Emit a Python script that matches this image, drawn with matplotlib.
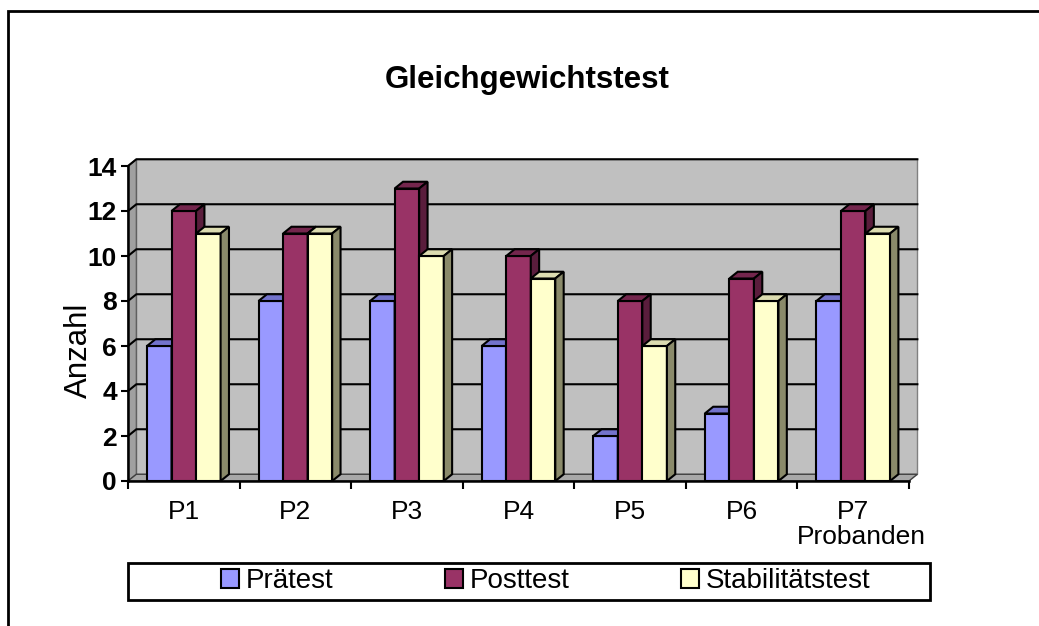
import matplotlib.pyplot as plt
from matplotlib.patches import Rectangle, Patch

plt.rcParams['font.family'] = ['Liberation Sans', 'DejaVu Sans']

# data
probanden = ['P1', 'P2', 'P3', 'P4', 'P5', 'P6', 'P7']
pretest = [6, 8, 8, 6, 2, 3, 8]
posttest = [12, 11, 13, 10, 8, 9, 12]
stabil = [11, 11, 10, 9, 6, 8, 11]
series_names = ['Prätest', 'Posttest', 'Stabilitätstest']

front_cols = ['#9999ff', '#993366', '#ffffcc']
top_cols = ['#7373cc', '#74264d', '#dcdcb0']
side_cols = ['#5c5c99', '#5a1d3c', '#8a8a6a']

W, H = 1039, 626
fig = plt.figure(figsize=(W / 100, H / 100), dpi=100)
ax = fig.add_axes([128 / W, 1 - 481 / H, (909 - 128) / W, (481 - 166) / H])
ax.set_xlim(-0.5, 6.5)
ax.set_ylim(0, 14)
ax.patch.set_visible(False)

# fake 3d depth offset in data units
dx, dy = 0.075, 0.3

# back wall, side wall, floor
ax.fill([-0.5 + dx, 6.5 + dx, 6.5 + dx, -0.5 + dx], [dy, dy, 14 + dy, 14 + dy],
        facecolor='#c0c0c0', edgecolor='#808080', lw=1, clip_on=False, zorder=0.5)
ax.fill([-0.5, -0.5 + dx, -0.5 + dx, -0.5], [0, dy, 14 + dy, 14],
        facecolor='#a0a0a0', edgecolor='#606060', lw=1, clip_on=False, zorder=0.6)
ax.fill([-0.5, 6.5, 6.5 + dx, -0.5 + dx], [0, 0, dy, dy],
        facecolor='#a8a8a8', edgecolor='#404040', lw=1, clip_on=False, zorder=0.6)

for v in range(2, 15, 2):
    ax.plot([-0.5, -0.5 + dx, 6.5 + dx], [v, v + dy, v + dy], color='black',
            lw=1.5, clip_on=False, zorder=1)

bw = 0.22
offs = [-bw, 0, bw]
for k, vals in enumerate([pretest, posttest, stabil]):
    xs = [i + offs[k] for i in range(len(probanden))]
    ax.bar(xs, vals, width=bw, color=front_cols[k], edgecolor='black',
           linewidth=1.5, zorder=2 + k)
    for x, v in zip(xs, vals):
        x0, x1 = x - bw / 2, x + bw / 2
        ax.fill([x0, x1, x1 + dx, x0 + dx], [v, v, v + dy, v + dy],
                facecolor=top_cols[k], edgecolor='black', lw=1.5,
                clip_on=False, zorder=2 + k)
        ax.fill([x1, x1 + dx, x1 + dx, x1], [0, dy, v + dy, v],
                facecolor=side_cols[k], edgecolor='black', lw=1.5,
                clip_on=False, zorder=2 + k)

# axes
for s in ['top', 'right']:
    ax.spines[s].set_visible(False)
for s in ['left', 'bottom']:
    ax.spines[s].set_linewidth(1.8)
    ax.spines[s].set_zorder(6)

ax.set_yticks(range(0, 15, 2))
ax.set_yticklabels([str(v) for v in range(0, 15, 2)], fontsize=19, fontweight='bold')
ax.tick_params(axis='y', direction='out', length=5, width=1.5, pad=3)

ax.set_xticks(range(len(probanden)))
ax.set_xticklabels(probanden, fontsize=19)
ax.set_xticks([i - 0.5 for i in range(len(probanden) + 1)], minor=True)
ax.tick_params(axis='x', which='major', length=0, pad=14)
ax.tick_params(axis='x', which='minor', direction='out', length=6, width=1.5)

fig.text(79 / W, 1 - 350 / H, 'Anzahl', rotation=90, fontsize=22.5,
         ha='center', va='center')
fig.text(527 / W, 1 - 80 / H, 'Gleichgewichtstest', fontsize=22.5,
         fontweight='bold', ha='center', va='center')
fig.text(861 / W, 1 - 537 / H, 'Probanden', fontsize=19, ha='center', va='center')

# legend
fig.add_artist(Rectangle((128 / W, 1 - 600 / H), (930 - 128) / W, 37 / H,
                         transform=fig.transFigure, fill=False, lw=2, ec='black'))
handles = [Patch(facecolor=c, edgecolor='black', lw=1.5) for c in front_cols]
fig.legend(handles, series_names, loc='center left',
           bbox_to_anchor=(221 / W, 1 - 581 / H), ncol=3, frameon=False,
           fontsize=20, handlelength=0.65, handleheight=0.65, handletextpad=0.25,
           columnspacing=4.0, borderpad=0, borderaxespad=0)

# outer chart border
fig.add_artist(Rectangle((8 / W, -0.2), 1.2, 1 - 11 / H + 0.2,
                         transform=fig.transFigure, fill=False, lw=2, ec='black'))

fig.savefig('out.png', dpi=100)
